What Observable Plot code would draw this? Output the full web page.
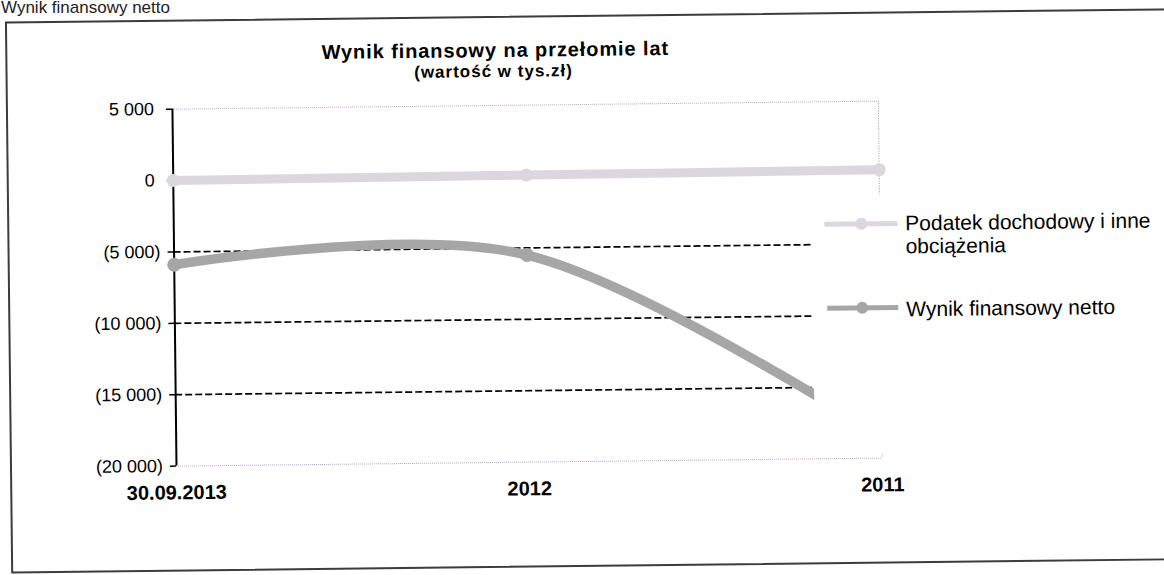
<!DOCTYPE html>
<html>
<head>
<meta charset="utf-8">
<script src="https://cdn.jsdelivr.net/npm/d3@7"></script>
<script src="https://cdn.jsdelivr.net/npm/@observablehq/plot@0.6"></script>
<style>
  html, body { margin:0; padding:0; background:#fff; width:1164px; height:575px; overflow:hidden;
    font-family:"Liberation Sans", Arial, sans-serif; color:#000; }
  #toptext { position:absolute; left:1px; top:-2px; font-size:17px; line-height:20px; color:#222; white-space:nowrap; }
  #wrap { position:absolute; left:0; top:0; width:1164px; height:575px;
    transform:rotate(-0.65deg); transform-origin:582px 288px; }
  #frame { position:absolute; left:8px; top:15px; width:1180px; height:552px; border:2px solid #3c3c3c; box-sizing:border-box; }
  #title { position:absolute; left:248px; width:500px; top:37px; text-align:center; font-weight:bold;
    font-size:20px; line-height:24px; letter-spacing:0.9px; white-space:nowrap; }
  #subtitle { position:absolute; left:296px; width:400px; top:61px; text-align:center; font-weight:bold;
    font-size:17px; line-height:20px; letter-spacing:1px; white-space:nowrap; }
  #chart { position:absolute; left:0; top:90px; }
  #legend { position:absolute; left:813px; top:197px; width:370px; height:260px; background:#fff; }
  .sw { position:absolute; }
  .lt { position:absolute; left:93px; font-size:21px; line-height:23px; white-space:nowrap; }
</style>
</head>
<body>
<div id="toptext">Wynik finansowy netto</div>
<div id="wrap">
  <div id="frame"></div>
  <div id="title">Wynik finansowy na przełomie lat</div>
  <div id="subtitle">(wartość w tys.zł)</div>
  <div id="chart"></div>
  <div id="legend"></div>
</div>
<script>
// ---- data ----
const categories = ["30.09.2013", "2012", "2011"];
const podatek = [0, 100, 200];            // Podatek dochodowy i inne obciążenia
const netto = [-5900, -5500, -18500];     // Wynik finansowy netto
const yTicks = [5000, 0, -5000, -10000, -15000, -20000];
const gridValues = [-5000, -10000, -15000];
const seriesNames = ["Podatek dochodowy i inne obciążenia", "Wynik finansowy netto"];

const colPodatek = "#dcd6de";
const colNetto = "#a6a6a6";

const data = categories.map((c, i) => ({c, podatek: podatek[i], netto: netto[i]}));

const loc = d3.formatLocale({decimal: ",", thousands: " ", grouping: [3], currency: ["", ""]});
const f = loc.format(",d");
const fmt = v => v < 0 ? "(" + f(-v) + ")" : f(v) + "\u00a0";

const first = () => categories[0];
const last = () => categories[categories.length - 1];

const chart = Plot.plot({
  width: 1164, height: 420,
  marginLeft: 174, marginRight: 284, marginTop: 14, marginBottom: 49,
  style: {fontFamily: '"Liberation Sans", Arial, sans-serif', background: "transparent", overflow: "visible", color: "#000"},
  x: {type: "point", domain: categories, padding: 0, axis: null},
  y: {domain: [-20000, 5000], axis: null},
  marks: [
    // plot-area border (faint dotted)
    Plot.ruleY([5000, -20000], {x1: first, x2: last, stroke: "#b9a9c4", strokeWidth: 1, strokeDasharray: "1,1"}),
    Plot.ruleX([categories[2]], {y1: 5000, y2: -20000, stroke: "#9f93a8", strokeWidth: 1, strokeDasharray: "1,1.5"}),
    // dashed gridlines
    Plot.ruleY(gridValues, {x1: first, x2: last, stroke: "#000", strokeWidth: 1.7, strokeDasharray: "7,3"}),
    // y axis
    Plot.axisY(yTicks, {label: null, tickFormat: fmt, tickSize: 6, tickPadding: 7.5, fontSize: 18, strokeWidth: 1.5}),
    Plot.ruleX([categories[0]], {y1: 5000, y2: -20000, stroke: "#000", strokeWidth: 2}),
    // x axis labels
    Plot.axisX({label: null, tickSize: 0, tickPadding: 19, fontSize: 20, fontWeight: "bold"}),
    // series
    Plot.line(data, {x: "c", y: "podatek", curve: "cardinal", stroke: colPodatek, strokeWidth: 9}),
    Plot.dot(data, {x: "c", y: "podatek", r: 6.5, fill: colPodatek}),
    Plot.line(data, {x: "c", y: "netto", curve: "cardinal", stroke: colNetto, strokeWidth: 9.5}),
    Plot.dot(data, {x: "c", y: "netto", r: 7, fill: colNetto})
  ]
});
document.getElementById("chart").appendChild(chart);

// ---- legend ----
const legend = d3.select("#legend");
const entries = [
  {name: seriesNames[0], lines: ["Podatek dochodowy i inne", "obciążenia"], color: colPodatek, sy: 30, ty: 18, x0: 12},
  {name: seriesNames[1], lines: ["Wynik finansowy netto"], color: colNetto, sy: 114, ty: 104, x0: 14}
];
entries.forEach(e => {
  const svg = legend.append("svg").attr("class", "sw")
    .attr("width", 90).attr("height", 20)
    .style("left", "0px").style("top", (e.sy - 10) + "px");
  svg.append("line").attr("x1", e.x0).attr("x2", 85).attr("y1", 10).attr("y2", 10)
    .attr("stroke", e.color).attr("stroke-width", 5);
  svg.append("circle").attr("cx", 49).attr("cy", 10).attr("r", 6).attr("fill", e.color);
  legend.append("div").attr("class", "lt").style("top", e.ty + "px")
    .html(e.lines.join("<br>"));
});
</script>
</body>
</html>
